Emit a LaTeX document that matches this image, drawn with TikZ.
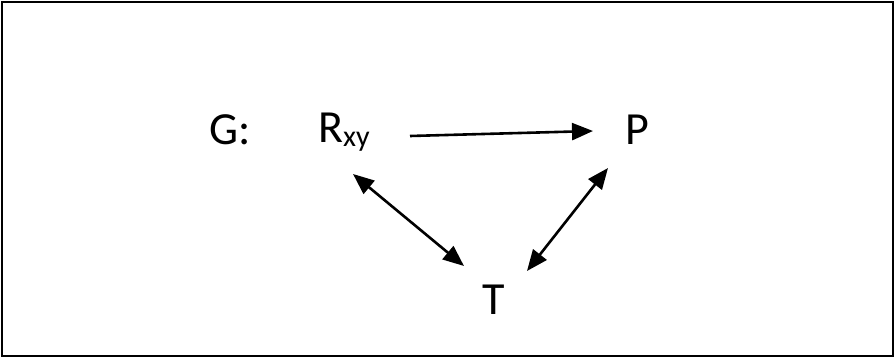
\documentclass[tikz,border=0pt]{standalone}
\usepackage{fontspec}
\setmainfont{Carlito}
\usetikzlibrary{arrows.meta}
\begin{document}
\begin{tikzpicture}[x=1pt,y=-1pt,
  lbl/.style={inner sep=0pt,anchor=base west,font=\fontsize{46}{52}\selectfont},
  conn/.style={line width=2.6pt,{Triangle[length=21pt,width=17pt]}-{Triangle[length=21pt,width=17pt]}},
  oneway/.style={line width=2.6pt,-{Triangle[length=21pt,width=17pt]}}]
\useasboundingbox (0,0) rectangle (895,358);
\draw[line width=2.6pt] (2,2) rectangle (893,356);
\node[lbl] (g) at (209,145) {G:};
\node[lbl] (r) at (318,143) {R\raisebox{-4pt}{\fontsize{30}{32}\selectfont xy}};
\node[lbl] (p) at (625,145) {P};
\node[lbl] (t) at (482,315) {T};
\coordinate (a1) at (410,136);
\coordinate (a2) at (593,131);
\coordinate (b1) at (353,174);
\coordinate (b2) at (464,266);
\coordinate (c1) at (608,168);
\coordinate (c2) at (527,271);
\draw[oneway] (a1) -- (a2);
\draw[conn] (b1) -- (b2);
\draw[conn] (c1) -- (c2);
\end{tikzpicture}
\end{document}
